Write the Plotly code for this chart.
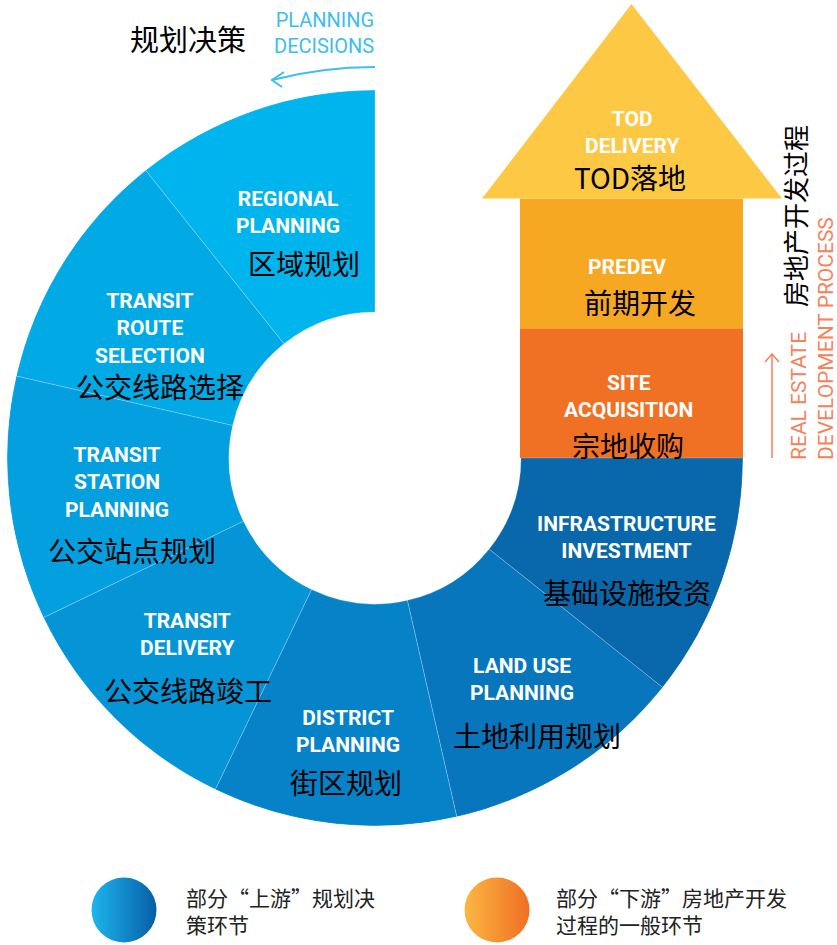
import plotly.graph_objects as go

# ---------------- data ----------------
planning_en = ["REGIONAL<br>PLANNING", "TRANSIT<br>ROUTE<br>SELECTION",
               "TRANSIT<br>STATION<br>PLANNING", "TRANSIT<br>DELIVERY",
               "DISTRICT<br>PLANNING", "LAND USE<br>PLANNING",
               "INFRASTRUCTURE<br>INVESTMENT"]
planning_zh = ["区域规划", "公交线路选择", "公交站点规划", "公交线路竣工",
               "街区规划", "土地利用规划", "基础设施投资"]
planning_share = [1, 1, 1, 1, 1, 1, 1]

dev_en = ["SITE<br>ACQUISITION", "PREDEV", "TOD<br>DELIVERY"]
dev_zh = ["宗地收购", "前期开发", "TOD落地"]
dev_height = [1, 1, 1.5]

legend_zh = ["部分“上游”规划决<br>策环节", "部分“下游”房地产开发<br>过程的一般环节"]

# ---------------- layout / style constants ----------------
W, H = 837, 945
CX, CY = 375, 458
R_OUT, R_IN = 368, 146
START, SWEEP = 90, 270
seg_colors = ["#00b5ee", "#01a9e5", "#039fdf", "#0595d6", "#0683c8", "#0776bd", "#0868ab"]
dev_colors = ["#f07124", "#f7a823", "#fdc843"]
RECT_X0, RECT_X1 = 520, 743
HEAD_X0, HEAD_X1, ARROW_TOP = 482, 782, 4
BLUE_TXT = "#3ebdf0"
ORANGE_TXT = "#f4825a"

seg_en_pos = [(288, 213), (150, 329), (117, 482), (187, 634), (348, 731), (522, 679), (626, 537)]
seg_zh_pos = [(304, 263), (160, 386), (132, 550), (188, 690), (346, 782), (537, 735), (627, 592)]
dev_en_pos = [(628, 396), (627, 267), (632, 133)]
dev_zh_pos = [(628, 445), (640, 302), (630, 177)]

EN_FONT = dict(family="Roboto", size=21, color="white", weight="bold")
ZH_FONT = dict(family="Noto Sans CJK SC", size=28, color="black")


def px(x, y):
    return x / W, 1 - y / H


def note(xy, text, font, **kw):
    x, y = px(*xy)
    d = dict(x=x, y=y, xref="paper", yref="paper", text=text, showarrow=False,
             xanchor="center", yanchor="middle", align="center", font=font, borderpad=0)
    d.update(kw)
    return d


# ---------------- figure ----------------
fig = go.Figure()

tot = sum(planning_share)
widths = [s / tot * SWEEP for s in planning_share]
thetas, acc = [], START
for w in widths:
    thetas.append(acc + w / 2)
    acc += w

fig.add_trace(go.Barpolar(
    theta=thetas, width=widths, base=[R_IN] * len(thetas),
    r=[R_OUT - R_IN] * len(thetas),
    marker=dict(color=seg_colors, line=dict(color="rgba(255,255,255,0.22)", width=1)),
    hoverinfo="skip", showlegend=False,
))

# development process arrow (x unit = rectangle width)
unit = RECT_X1 - RECT_X0
xr = [(HEAD_X0 - (RECT_X0 + RECT_X1) / 2) / unit, (HEAD_X1 - (RECT_X0 + RECT_X1) / 2) / unit]
bases, acc = [], 0
for h in dev_height:
    bases.append(acc)
    acc += h
fig.add_trace(go.Bar(
    x=[0, 0], y=dev_height[:2], base=bases[:2], width=1,
    marker=dict(color=dev_colors[:2], line=dict(width=0)),
    hoverinfo="skip", showlegend=False, xaxis="x", yaxis="y",
))
tb = bases[2]
fig.add_trace(go.Scatter(
    x=[xr[0], xr[1], 0, xr[0]],
    y=[tb, tb, tb + dev_height[2], tb],
    fill="toself", fillcolor=dev_colors[2], mode="lines",
    line=dict(width=0, color=dev_colors[2]),
    hoverinfo="skip", showlegend=False, xaxis="x", yaxis="y",
))

# legend circles
fig.add_trace(go.Scatter(
    x=[0, 1], y=[0, 0], mode="markers",
    marker=dict(size=65, color=["#1db5ee", "#fbb743"],
                gradient=dict(type="horizontal", color=["#075ea6", "#f06f22"]),
                line=dict(width=0)),
    hoverinfo="skip", showlegend=False, xaxis="x2", yaxis="y2",
))

ann = []
for i in range(len(planning_en)):
    ann.append(note(seg_en_pos[i], planning_en[i], EN_FONT))
    ann.append(note(seg_zh_pos[i], planning_zh[i], ZH_FONT))
for i in range(len(dev_en)):
    ann.append(note(dev_en_pos[i], dev_en[i], EN_FONT))
    ann.append(note(dev_zh_pos[i], dev_zh[i], ZH_FONT))

ann.append(note((188, 38), "规划决策", dict(family="Noto Sans CJK SC", size=29, color="black")))
ann.append(note((375, 33), "PLANNING<br>DECISIONS",
                dict(family="Roboto", size=20, color=BLUE_TXT), xanchor="right", align="right"))
ann.append(note((795, 216), "房地产开发过程",
                dict(family="Noto Sans CJK SC", size=26, color="black"), textangle=-90))
ann.append(note((812, 339), "REAL ESTATE<br>DEVELOPMENT PROCESS",
                dict(family="Roboto", size=21, color=ORANGE_TXT), textangle=-90, align="left"))
for i, lx in enumerate([185, 555]):
    ann.append(note((lx, 910), legend_zh[i],
                    dict(family="Noto Sans CJK SC", size=21, color="#222"),
                    xanchor="left", align="left"))


def pth(points):
    s = ""
    for k, (a, b) in enumerate(points):
        xa, yb = px(a, b)
        s += ("M" if k == 0 else "L") + f"{xa:.5f},{yb:.5f} "
    return s


p0, pc, p1 = px(375, 67), px(322, 67), px(272, 80)
shapes = [
    dict(type="path", xref="paper", yref="paper",
         path=f"M{p0[0]:.5f},{p0[1]:.5f} Q{pc[0]:.5f},{pc[1]:.5f} {p1[0]:.5f},{p1[1]:.5f}",
         line=dict(color=BLUE_TXT, width=2)),
    dict(type="path", xref="paper", yref="paper",
         path=pth([(284, 72), (272, 80), (282, 87)]),
         line=dict(color=BLUE_TXT, width=2)),
    dict(type="path", xref="paper", yref="paper",
         path=pth([(772, 458), (772, 354)]),
         line=dict(color=ORANGE_TXT, width=1.5)),
    dict(type="path", xref="paper", yref="paper",
         path=pth([(765, 362), (772, 354), (779, 362)]),
         line=dict(color=ORANGE_TXT, width=1.5)),
]

ax_hide = dict(visible=False, showgrid=False, zeroline=False, fixedrange=True)
fig.update_layout(
    width=W, height=H, margin=dict(l=0, r=0, t=0, b=0),
    paper_bgcolor="white", plot_bgcolor="rgba(0,0,0,0)",
    showlegend=False,
    polar=dict(
        domain=dict(x=[(CX - R_OUT) / W, (CX + R_OUT) / W],
                    y=[(H - CY - R_OUT) / H, (H - CY + R_OUT) / H]),
        bgcolor="rgba(0,0,0,0)",
        radialaxis=dict(visible=False, range=[0, R_OUT], showgrid=False),
        angularaxis=dict(visible=False, rotation=0, direction="counterclockwise", showgrid=False),
    ),
    xaxis=dict(domain=[HEAD_X0 / W, HEAD_X1 / W], range=xr, **ax_hide),
    yaxis=dict(domain=[(H - CY) / H, (H - ARROW_TOP) / H], range=[0, sum(dev_height)], **ax_hide),
    xaxis2=dict(domain=[0, 1], range=[-124 / 373, (W - 124) / 373], anchor="y2", **ax_hide),
    yaxis2=dict(domain=[0, 70 / H], range=[-1, 1], anchor="x2", **ax_hide),
    annotations=ann, shapes=shapes,
)

fig.write_html("out.html", config={"displayModeBar": False},
               post_script="document.body.style.margin='0px';")
